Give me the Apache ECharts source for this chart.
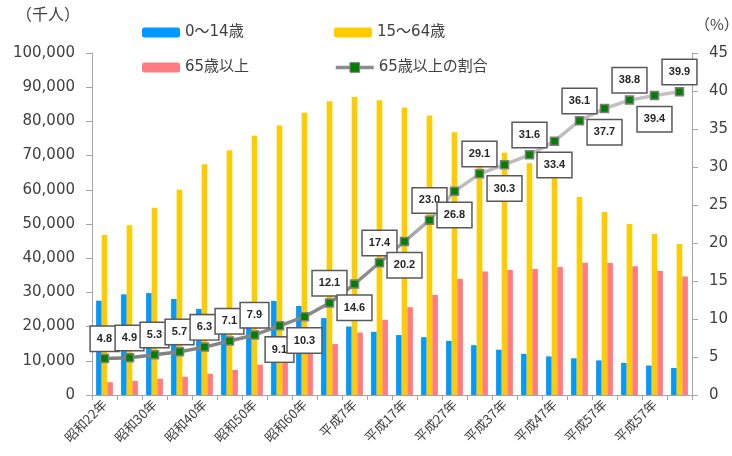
<!DOCTYPE html>
<html>
<head>
<meta charset="utf-8">
<script src="https://cdn.jsdelivr.net/npm/echarts@6/dist/echarts.min.js"></script>
<style>html,body{margin:0;padding:0;background:#fff;}#c{width:732px;height:456px;}</style>
</head>
<body>
<div id="c"></div>
<script>
const categories = ['昭和22年','昭和25年','昭和30年','昭和35年','昭和40年','昭和45年','昭和50年','昭和55年','昭和60年','平成2年','平成7年','平成12年','平成17年','平成22年','平成27年','平成32年','平成37年','平成42年','平成47年','平成52年','平成57年','平成62年','平成57年','平成72年'];
const young = [27573,29428,29798,28067,25166,24823,27221,27507,26033,22486,20014,18472,17521,16900,15827,14568,13240,12039,11287,10732,10116,9387,8614,7912];
const working = [46785,49658,54729,60002,67444,71566,75807,78835,82506,85904,87165,86220,84092,81700,76818,73408,70845,67730,63430,57866,53531,50013,47063,44183];
const elderly = [3744,4109,4747,5350,6181,7331,8865,10647,12468,14895,18261,22005,25672,29246,33952,36124,36573,36849,37407,38678,38564,37676,36257,34642];
const ratio = [4.8,4.9,5.3,5.7,6.3,7.1,7.9,9.1,10.3,12.1,14.6,17.4,20.2,23.0,26.8,29.1,30.3,31.6,33.4,36.1,37.7,38.8,39.4,39.9];
const leftTicks = {min:0, max:100000, interval:10000};
const rightTicks = {min:0, max:45, interval:5};
const seriesNames = ['0〜14歳','15〜64歳','65歳以上','65歳以上の割合'];

const chart = echarts.init(document.getElementById('c'));
const numFont = 'Verdana, "DejaVu Sans", "Noto Sans CJK JP", sans-serif';
const lblFont = '"Liberation Sans", Arial, sans-serif';
const jpFont = '"Noto Sans CJK JP", sans-serif';
const belowIdx = new Set([7,8,10,12,14,16,18,20,22]);
const ratioData = ratio.map((v,i)=> belowIdx.has(i)
  ? {value:v, label:{position:'bottom', distance:7}}
  : {value:v});

const legendBase = {itemWidth:38, itemHeight:10, itemGap:0,
  textStyle:{fontSize:15, color:'#404040', fontFamily:numFont}};

const option = {
  animation:false,
  backgroundColor:'#fff',
  grid:{left:92, right:40, top:53, bottom:61, containLabel:false},
  legend:[
    Object.assign({left:137, top:20, data:[seriesNames[0]]}, legendBase),
    Object.assign({left:329, top:20, data:[seriesNames[1]]}, legendBase),
    Object.assign({left:137, top:55, data:[seriesNames[2]]}, legendBase),
    Object.assign({left:329, top:55, data:[{name:seriesNames[3], itemStyle:{color:'#008000', borderColor:'#7f7f7f', borderWidth:1}, lineStyle:{color:'#8c8c8c', width:3.5}}]}, legendBase, {itemHeight:12})
  ],
  graphic:[
    {type:'text', left:16, top:6, style:{text:'（千人）', fontSize:16, fill:'#404040', fontFamily:jpFont}},
    {type:'text', left:695, top:17, style:{text:'（%）', fontSize:15, fill:'#404040', fontFamily:jpFont}}
  ],
  xAxis:{
    type:'category', data:categories, boundaryGap:true,
    axisLine:{show:true, lineStyle:{color:'#a6a6a6', width:1}},
    axisTick:{show:true, interval:0, length:5, lineStyle:{color:'#a6a6a6'}},
    axisLabel:{interval:1, rotate:45, fontSize:13, margin:7, color:'#404040', fontFamily:jpFont},
    splitLine:{show:false}
  },
  yAxis:[
    {type:'value', min:leftTicks.min, max:leftTicks.max, interval:leftTicks.interval, position:'left',
     axisLine:{show:true, lineStyle:{color:'#a6a6a6'}},
     axisTick:{show:true, length:6, lineStyle:{color:'#a6a6a6'}},
     splitLine:{show:false},
     axisLabel:{fontSize:15, margin:17, color:'#404040', fontFamily:numFont,
       formatter:v=>v.toLocaleString('en-US')}},
    {type:'value', min:rightTicks.min, max:rightTicks.max, interval:rightTicks.interval, position:'right',
     axisLine:{show:true, lineStyle:{color:'#a6a6a6'}},
     axisTick:{show:true, length:6, lineStyle:{color:'#a6a6a6'}},
     splitLine:{show:false},
     axisLabel:{fontSize:15, margin:17, color:'#404040', fontFamily:numFont}}
  ],
  series:[
    {name:seriesNames[0], type:'bar', data:young, barWidth:5.6, barGap:'0%', itemStyle:{color:'#0099ff'}},
    {name:seriesNames[1], type:'bar', data:working, barWidth:5.6, barGap:'0%', itemStyle:{color:'#ffcc00'}},
    {name:seriesNames[2], type:'bar', data:elderly, barWidth:5.6, barGap:'0%', itemStyle:{color:'#ff7c80'}},
    {name:seriesNames[3], type:'line', yAxisIndex:1, data:ratioData, z:5,
     symbol:'rect', symbolSize:8,
     itemStyle:{color:'#008000', borderColor:'#7f7f7f', borderWidth:1.5},
     lineStyle:{width:3.5, color:new echarts.graphic.LinearGradient(0,0,1,0,[
       {offset:0,color:'#808080'},{offset:0.45,color:'#8a8a8a'},{offset:0.6,color:'#bcbcbc'},{offset:1,color:'#c4c4c4'}])},
     label:{show:true, position:'top', distance:3,
       formatter:p=>Number(p.value).toFixed(1),
       backgroundColor:'#fff', borderColor:'#595959', borderWidth:1.5,
       padding:[6,6,6,6], lineHeight:12, fontSize:11, fontWeight:'bold', color:'#262626', fontFamily:lblFont},
     labelLayout:{hideOverlap:false}
    }
  ]
};
chart.setOption(option);
</script>
</body>
</html>
